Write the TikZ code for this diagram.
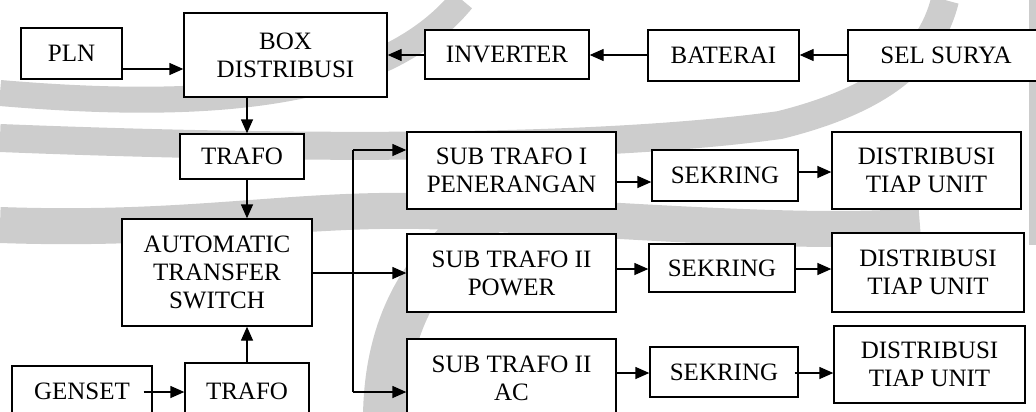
\documentclass[tikz,border=0pt]{standalone}
\usepackage{fontspec}
\setmainfont{Liberation Serif}
\usetikzlibrary{arrows.meta,calc}
\definecolor{wm}{RGB}{205,205,205}
\begin{document}
\begin{tikzpicture}[x=1pt,y=-1pt,
  blk/.style={draw=black, fill=white, line width=1.3pt, align=center, inner sep=0pt,
    font=\fontsize{25}{28}\selectfont},
  arr/.style={line width=1.3pt, -{Triangle[length=14pt,width=12pt]}},
  ln/.style={line width=1.3pt},
  wmark/.style={draw=wm, line cap=butt}]
\useasboundingbox (0,0) rectangle (1036,412);
\begin{scope}
\clip (0,0) rectangle (1036,412);
% watermark
\draw[wmark, line width=26pt] (0,93) .. controls (200,110) and (380,100) .. (462,0);
\draw[wmark, line width=28pt] (0,138) .. controls (300,150) and (600,150) .. (780,125) .. controls (880,100) and (930,60) .. (945,0);
\draw[wmark, line width=36pt] (0,225) .. controls (200,232) and (300,205) .. (450,212) .. controls (600,218) and (800,236) .. (920,226);
\draw[wmark, line width=44pt] (385,420) .. controls (385,330) and (420,260) .. (490,218);
\draw[wmark, line width=30pt] (1044,0) -- (1044,245);
% nodes
\node[blk, minimum width=101pt, minimum height=51pt] (pln) at (71.5,53.5) {PLN};
\node[blk, minimum width=203pt, minimum height=84pt] (boxd) at (285.5,55) {BOX\\DISTRIBUSI};
\node[blk, minimum width=164pt, minimum height=49pt] (inv) at (507,54.5) {INVERTER};
\node[blk, minimum width=151pt, minimum height=51pt] (bat) at (723.5,55.5) {BATERAI};
\node[blk, minimum width=196pt, minimum height=51pt] (sel) at (946,55.5) {SEL SURYA};
\node[blk, minimum width=124pt, minimum height=45pt] (tr1) at (242,156.5) {TRAFO};
\node[blk, minimum width=190pt, minimum height=107pt] (ats) at (217,272.5) {AUTOMATIC\\TRANSFER\\SWITCH};
\node[blk, minimum width=124pt, minimum height=56pt] (tr2) at (247,391) {TRAFO};
\node[blk, minimum width=140pt, minimum height=50pt] (gen) at (82,391) {GENSET};
\node[blk, minimum width=209pt, minimum height=77pt] (sub1) at (511.5,170.5) {SUB TRAFO I\\PENERANGAN};
\node[blk, minimum width=209pt, minimum height=78pt] (sub2) at (511.5,273) {SUB TRAFO II\\POWER};
\node[blk, minimum width=209pt, minimum height=78pt] (sub3) at (511.5,378) {SUB TRAFO II\\AC};
\node[blk, minimum width=146pt, minimum height=51pt] (sek1) at (725,175.5) {SEKRING};
\node[blk, minimum width=146pt, minimum height=48pt] (sek2) at (722,268) {SEKRING};
\node[blk, minimum width=148pt, minimum height=50pt] (sek3) at (724,372) {SEKRING};
\node[blk, minimum width=189pt, minimum height=77pt] (dist1) at (926.5,170.5) {DISTRIBUSI\\TIAP UNIT};
\node[blk, minimum width=192pt, minimum height=79pt] (dist2) at (928,272.5) {DISTRIBUSI\\TIAP UNIT};
\node[blk, minimum width=191pt, minimum height=77pt] (dist3) at (929.5,364.5) {DISTRIBUSI\\TIAP UNIT};
\coordinate (vx) at (247,0);
\coordinate (bt) at (353,150);
\coordinate (bb) at (353,392);
% top row
\draw[arr] (pln.east |- 0,69) -- (boxd.west |- 0,69);
\draw[arr] (inv.west |- 0,55) -- (boxd.east |- 0,55);
\draw[arr] (bat.west |- 0,55) -- (inv.east |- 0,55);
\draw[arr] (sel.west |- 0,55) -- (bat.east |- 0,55);
% vertical chain
\draw[arr] (boxd.south -| vx) -- (tr1.north -| vx);
\draw[arr] (tr1.south -| vx) -- (ats.north -| vx);
\draw[arr] (tr2.north) -- (ats.south -| tr2.north);
\draw[arr] ($(gen.east |- 0,392)+(-9,0)$) -- (tr2.west |- 0,392);
% bus
\draw[ln] (ats.east |- 0,273) -- (bt |- 0,273);
\draw[arr] (bt |- 0,273) -- (sub2.west |- 0,273);
\draw[ln] (bb) -- (bt);
\draw[arr] (bt) -- (sub1.west |- bt);
\draw[arr] (bb) -- (sub3.west |- bb);
% rows
\draw[arr] (sub1.east |- 0,182) -- (sek1.west |- 0,182);
\draw[arr] (sek1.east |- 0,172) -- (dist1.west |- 0,172);
\draw[arr] (sub2.east |- 0,269) -- (sek2.west |- 0,269);
\draw[arr] (sek2.east |- 0,269) -- (dist2.west |- 0,269);
\draw[arr] (sub3.east |- 0,373) -- (sek3.west |- 0,373);
\draw[arr] ($(sek3.east |- 0,373)+(-4,0)$) -- (dist3.west |- 0,373);
\end{scope}
\end{tikzpicture}
\end{document}
